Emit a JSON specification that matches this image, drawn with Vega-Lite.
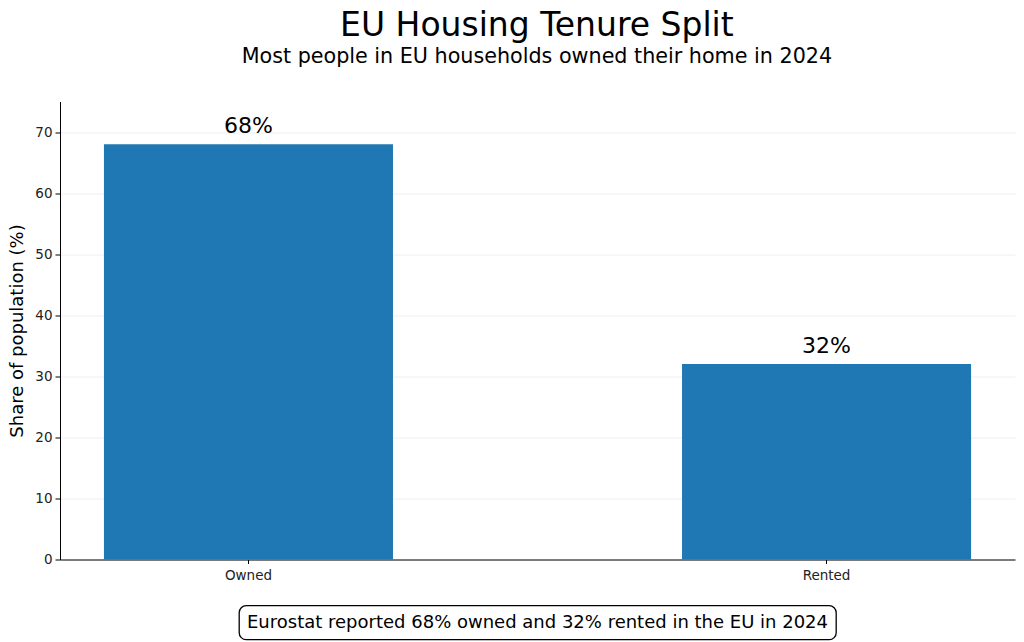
{
  "$schema": "https://vega.github.io/schema/vega-lite/v6.json",
  "autosize": {"type": "pad"},
  "padding": {"left": 8, "top": 9.5, "right": 9, "bottom": 2},
  "background": "white",
  "config": {"font": "DejaVu Sans"},
  "title": {
    "text": "EU Housing Tenure Split",
    "subtitle": "Most people in EU households owned their home in 2024",
    "fontSize": 33,
    "subtitleFontSize": 20.7,
    "font": "DejaVu Sans",
    "subtitleFont": "DejaVu Sans",
    "fontWeight": "normal",
    "subtitleFontWeight": "normal",
    "color": "black",
    "subtitleColor": "black",
    "anchor": "middle",
    "frame": "bounds",
    "dx": 25,
    "offset": 35,
    "subtitlePadding": 4
  },
  "datasets": {
    "tenure": [
      {"tenure": "Owned", "share": 68, "label": "68%"},
      {"tenure": "Rented", "share": 32, "label": "32%"}
    ],
    "note": [
      {"note": "Eurostat reported 68% owned and 32% rented in the EU in 2024"}
    ]
  },
  "vconcat": [
    {
      "width": 955,
      "height": 458,
      "data": {"name": "tenure"},
      "view": {"stroke": null},
      "encoding": {
        "x": {
          "field": "tenure",
          "type": "nominal",
          "sort": null,
          "scale": {"paddingInner": 0.5, "paddingOuter": 0.076},
          "axis": {
            "title": null,
            "labelAngle": 0,
            "labelFontSize": 13.5,
            "labelColor": "#222222",
            "tickSize": 4,
            "tickColor": "black",
            "domainColor": "black",
            "labelPadding": 5,
            "grid": false
          }
        },
        "y": {
          "field": "share",
          "type": "quantitative",
          "scale": {"domain": [0, 75], "nice": false},
          "axis": {
            "title": "Share of population (%)",
            "titleFontSize": 18,
            "titleFontWeight": "normal",
            "titleColor": "black",
            "titlePadding": 8,
            "values": [0, 10, 20, 30, 40, 50, 60, 70],
            "labelFontSize": 13.5,
            "labelColor": "#222222",
            "tickSize": 5,
            "tickColor": "black",
            "labelPadding": 3,
            "grid": true,
            "gridColor": "#eeeeee",
            "domainColor": "black"
          }
        }
      },
      "layer": [
        {"mark": {"type": "bar", "color": "#1f77b4"}},
        {
          "mark": {"type": "text", "dy": -11, "baseline": "alphabetic", "fontSize": 22, "color": "black"},
          "encoding": {"text": {"field": "label"}}
        }
      ]
    },
    {
      "width": 597,
      "height": 34,
      "data": {"name": "note"},
      "view": {"stroke": "black", "strokeWidth": 1.3, "cornerRadius": 7, "fill": "white"},
      "mark": {"type": "text", "fontSize": 18, "color": "black", "baseline": "middle"},
      "encoding": {"text": {"field": "note"}}
    }
  ],
  "spacing": 46,
  "bounds": "flush",
  "center": true
}
